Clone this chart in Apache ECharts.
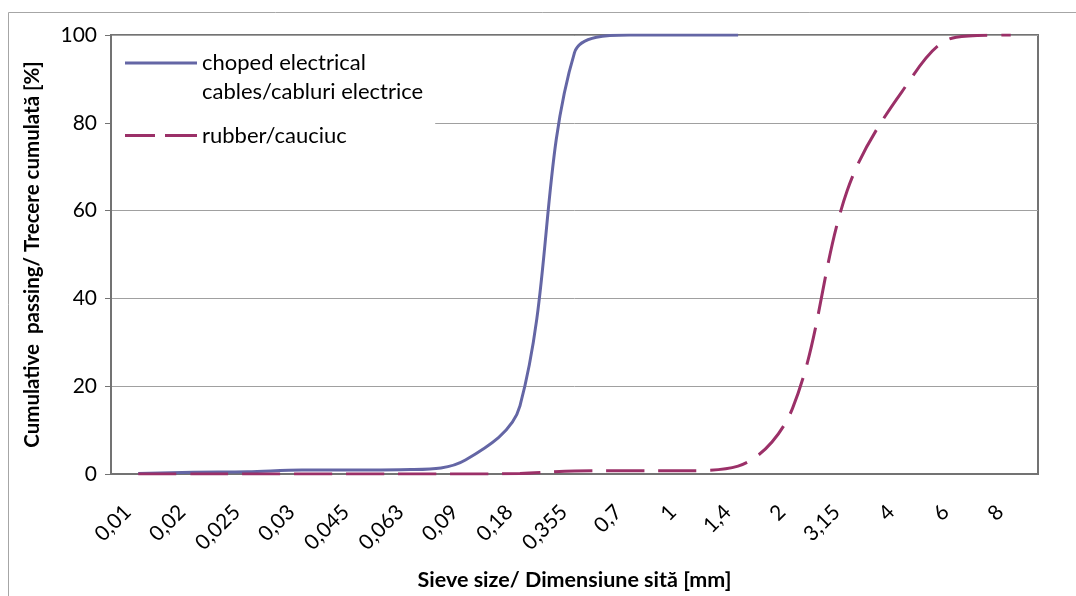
<!DOCTYPE html>
<html>
<head>
<meta charset="utf-8">
<title>Sieve analysis</title>
<script src="https://cdn.jsdelivr.net/npm/echarts@6/dist/echarts.min.js"></script>
<style>
  html, body { margin: 0; padding: 0; background: #fff; }
  #container { width: 1076px; height: 596px; }
</style>
</head>
<body>
<div id="container"></div>
<script>
// sieve sizes [mm] as shown on the category axis
let sieveSizes = ['0,01', '0,02', '0,025', '0,03', '0,045', '0,063', '0,09', '0,18', '0,355',
    '0,7', '1', '1,4', '2', '3,15', '4', '6', '8'];

// cumulative passing [%]
let cablesPassing = [0.1, 0.4, 0.5, 0.9, 0.9, 1.0, 3.2, 15.5, 96, 100, 100, 100,
    null, null, null, null, null];
let rubberPassing = [0, 0, 0, 0, 0, 0, 0, 0.1, 0.7, 0.75, 0.75, 1.8, 15, 64.5, 87, 99.5, 100];

let yTicks = [0, 20, 40, 60, 80, 100];

let cablesName = 'choped electrical\ncables/cabluri electrice';
let rubberName = 'rubber/cauciuc';

var dom = document.getElementById('container');
var myChart = echarts.init(dom, null, { renderer: 'canvas' });

var font = 'Lato, "Open Sans", sans-serif';

// legend icons: line sample placed on first text row (itemHeight = two rows)
var solidIcon = 'path://M0,0M72,58M0,13H72V16H0Z';
var dashIcon = 'path://M0,0M72,58M0,27.5H30V30.5H0ZM40,27.5H72V30.5H40Z';

var option = {
    animation: false,
    backgroundColor: '#fff',
    textStyle: { fontFamily: font },
    graphic: [{
        type: 'rect',
        shape: { x: 8.5, y: 12.5, width: 1100, height: 620 },
        style: { fill: 'none', stroke: '#a6a6a6', lineWidth: 1 },
        silent: true,
        z: -10
    }],
    grid: {
        left: 111,
        right: 38,
        top: 35,
        bottom: 121,
        show: true,
        borderColor: '#737373',
        borderWidth: 2,
        backgroundColor: 'transparent'
    },
    legend: {
        orient: 'vertical',
        left: 112,
        top: 38.5,
        padding: [10, 12, 10, 13],
        backgroundColor: '#fff',
        itemWidth: 72,
        itemHeight: 58,
        itemGap: 0,
        itemStyle: { borderWidth: 0 },
        textStyle: { fontFamily: font, fontSize: 22, lineHeight: 29, color: '#000' },
        data: [
            { name: cablesName, icon: solidIcon },
            { name: rubberName, icon: dashIcon }
        ]
    },
    xAxis: {
        type: 'category',
        data: sieveSizes,
        boundaryGap: true,
        name: 'Sieve size/ Dimensiune sită [mm]',
        nameLocation: 'middle',
        nameGap: 95,
        nameTextStyle: { fontFamily: font, fontSize: 21.5, fontWeight: 'bold', color: '#000' },
        axisLine: { lineStyle: { color: '#737373', width: 2 } },
        axisTick: { show: false },
        axisLabel: {
            interval: 0,
            rotate: 45,
            margin: 24,
            padding: [0, 15, 0, 0],
            fontFamily: font,
            fontSize: 21,
            color: '#000'
        },
        splitLine: { show: false }
    },
    yAxis: {
        type: 'value',
        min: yTicks[0],
        max: yTicks[yTicks.length - 1],
        interval: 20,
        name: 'Cumulative  passing/ Trecere cumulată [%]',
        nameLocation: 'middle',
        nameGap: 68,
        nameTextStyle: { fontFamily: font, fontSize: 20.5, fontWeight: 'bold', color: '#000' },
        axisLine: { show: true, lineStyle: { color: '#737373', width: 2 } },
        axisTick: { show: true, inside: false, length: 6, lineStyle: { color: '#737373' } },
        axisLabel: { margin: 14, fontFamily: font, fontSize: 21, color: '#000' },
        splitLine: { show: true, lineStyle: { color: '#a0a0a0', width: 1 } }
    },
    series: [
        {
            name: cablesName,
            type: 'line',
            data: cablesPassing,
            smooth: 0.35,
            symbol: 'none',
            color: '#6466a5',
            lineStyle: { color: '#6466a5', width: 3 },
            z: 3
        },
        {
            name: rubberName,
            type: 'line',
            data: rubberPassing,
            smooth: 0.35,
            symbol: 'none',
            color: '#9b3068',
            lineStyle: { color: '#9b3068', width: 3, type: [38, 14] },
            z: 4
        }
    ]
};

if (option && typeof option === 'object') {
    myChart.setOption(option);
}

window.addEventListener('resize', myChart.resize);
</script>
</body>
</html>
